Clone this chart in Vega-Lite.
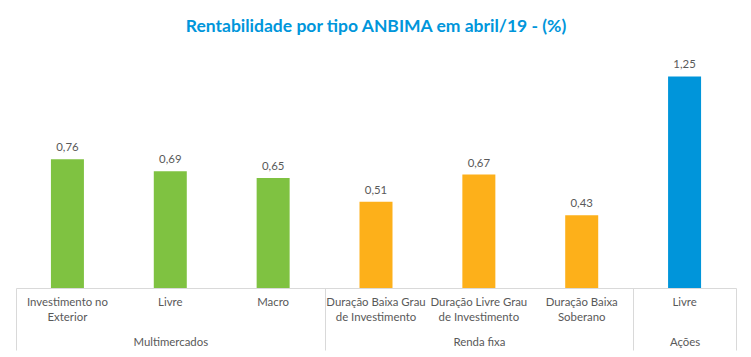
{
  "$schema": "https://vega.github.io/schema/vega-lite/v6.json",
  "width": 720,
  "height": 237,
  "autosize": {"type": "none"},
  "padding": {"left": 16, "top": 51, "right": 15, "bottom": 69},
  "background": "white",
  "title": {"text": "Rentabilidade por tipo ANBIMA em abril/19 - (%)", "color": "#0096DB", "font": "Lato", "fontSize": 17.5, "fontWeight": "bold", "anchor": "middle", "offset": 16},
  "config": {
    "view": {"stroke": null},
    "locale": {"number": {"decimal": ",", "thousands": ".", "grouping": [3], "currency": ["R$", ""]}}
  },
  "data": {"values": [
    {"chave": "Multimercados|Investimento no|Exterior", "grupo": "Multimercados", "valor": 0.76},
    {"chave": "Multimercados|Livre", "grupo": "Multimercados", "valor": 0.69},
    {"chave": "Multimercados|Macro", "grupo": "Multimercados", "valor": 0.65},
    {"chave": "Renda fixa|Duração Baixa Grau|de Investimento", "grupo": "Renda fixa", "valor": 0.51},
    {"chave": "Renda fixa|Duração Livre Grau|de Investimento", "grupo": "Renda fixa", "valor": 0.67},
    {"chave": "Renda fixa|Duração Baixa|Soberano", "grupo": "Renda fixa", "valor": 0.43},
    {"chave": "Ações|Livre", "grupo": "Ações", "valor": 1.25}
  ]},
  "layer": [
    {
      "mark": {"type": "bar", "size": 33},
      "encoding": {
        "x": {"field": "chave", "type": "nominal", "sort": null, "scale": {"paddingInner": 0, "paddingOuter": 0},
          "axis": {"orient": "bottom", "title": null, "labelExpr": "slice(split(datum.value, '|'), 1)", "labelAngle": 0, "labelFont": "Lato", "labelFontSize": 11.4, "labelColor": "#595959", "labelLineHeight": 15.5, "labelPadding": 8, "labelBaseline": "top", "labelLimit": 300, "labelOverlap": false, "ticks": false, "domainColor": "#D9D9D9", "domainWidth": 1}},
        "y": {"field": "valor", "type": "quantitative", "scale": {"domain": [0, 1.39]}, "axis": null},
        "color": {"field": "grupo", "type": "nominal", "scale": {"domain": ["Multimercados", "Renda fixa", "Ações"], "range": ["#7FC241", "#FDB01A", "#0095DA"]}, "legend": null}
      }
    },
    {
      "mark": {"type": "text", "dy": -8, "baseline": "alphabetic", "font": "Lato", "fontSize": 11.4, "color": "#595959"},
      "encoding": {
        "x": {"field": "chave", "type": "nominal", "sort": null,
          "axis": {"orient": "bottom", "title": null, "domain": false, "labelExpr": "indexof(['Multimercados|Livre', 'Renda fixa|Duração Livre Grau|de Investimento', 'Ações|Livre'], datum.value) >= 0 ? split(datum.value, '|')[0] : ''", "labelAngle": 0, "labelFont": "Lato", "labelFontSize": 11.4, "labelColor": "#595959", "labelPadding": -14, "labelBaseline": "top", "labelOverlap": false, "ticks": true, "tickBand": "extent", "tickSize": 62, "tickColor": "#D9D9D9", "tickOpacity": {"condition": {"test": "!isValid(datum.value) || indexof(['Multimercados|Macro', 'Renda fixa|Duração Baixa|Soberano', 'Ações|Livre'], datum.value) >= 0", "value": 1}, "value": 0}}},
        "y": {"field": "valor", "type": "quantitative"},
        "text": {"field": "valor", "type": "quantitative", "format": ".2f"}
      }
    }
  ],
  "resolve": {"axis": {"x": "independent"}}
}
